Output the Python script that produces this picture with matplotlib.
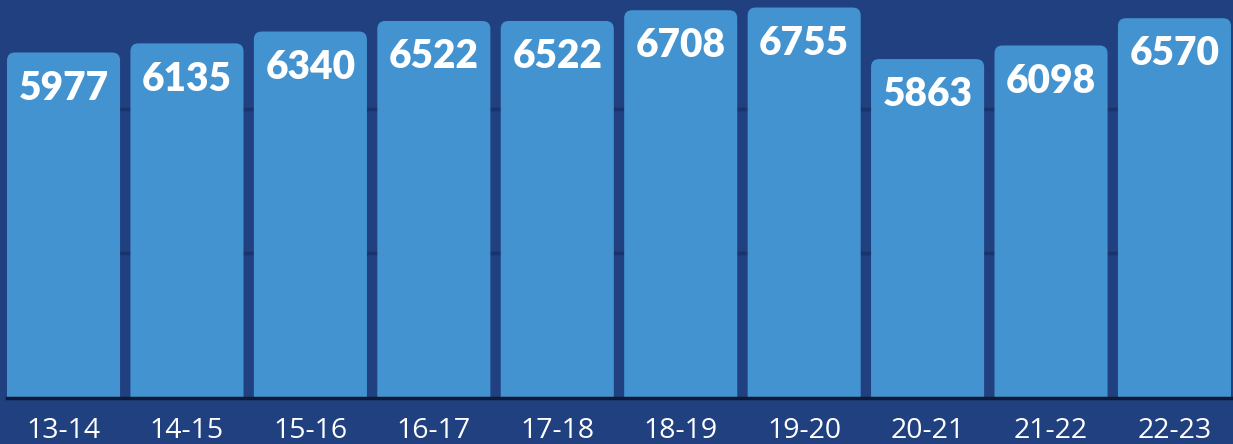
import matplotlib
matplotlib.use("Agg")
import matplotlib.pyplot as plt
from matplotlib.patches import FancyBboxPatch

# --- DATA ---
seasons = ["13-14", "14-15", "15-16", "16-17", "17-18",
           "18-19", "19-20", "20-21", "21-22", "22-23"]
values = [5977, 6135, 6340, 6522, 6522, 6708, 6755, 5863, 6098, 6570]
grid_values = [2500, 5000]

# --- STYLE ---
BG = "#21407f"
BAR = "#4393d0"
GRID = "#1a336c"
BASE = "#0e1a36"
BAR_W = 0.916
Y_TOP = 6885

fig = plt.figure(figsize=(12.33, 4.44), dpi=100, facecolor=BG)
ax = fig.add_axes([7 / 1233, 46 / 444, 1224 / 1233, 398 / 444])
ax.set_facecolor(BG)

x = list(range(len(values)))
bars = ax.bar(x, values, width=BAR_W, color=BAR)

ax.set_xlim(-BAR_W / 2, len(values) - 1 + BAR_W / 2)
ax.set_ylim(0, Y_TOP)

# swap plain bars for ones with rounded top corners (bottom part is clipped)
px_x = (len(values) - 1 + BAR_W) / 1224      # data units per pixel, x
px_y = Y_TOP / 398                           # data units per pixel, y
r = 8 * px_x
for b in bars:
    x0, w, h = b.get_x(), b.get_width(), b.get_height()
    b.set_visible(False)
    patch = FancyBboxPatch((x0, -200 * px_y), w, h + 200 * px_y,
                           boxstyle=f"round,pad=0,rounding_size={r}",
                           mutation_aspect=px_y / px_x,
                           facecolor=BAR, edgecolor="none", zorder=2)
    ax.add_patch(patch)

for gv in grid_values:
    ax.axhline(gv, color=GRID, lw=2.5, zorder=1)
ax.axhline(0, color=BASE, lw=2.5, zorder=3, clip_on=False)

# value labels inside the bar tops
for xi, v in zip(x, values):
    ax.annotate(f"{v}", (xi, v), xytext=(0, -34), textcoords="offset points",
                ha="center", va="baseline", color="white",
                fontsize=28, fontweight="heavy", family="Lato", zorder=4)

for s in ax.spines.values():
    s.set_visible(False)
ax.set_yticks([])
ax.set_xticks(x)
ax.set_xticklabels(seasons, color="white", fontsize=20.5, family="Open Sans")
ax.tick_params(axis="x", length=0, pad=14)

fig.savefig("out.png", dpi=100, facecolor=BG)
